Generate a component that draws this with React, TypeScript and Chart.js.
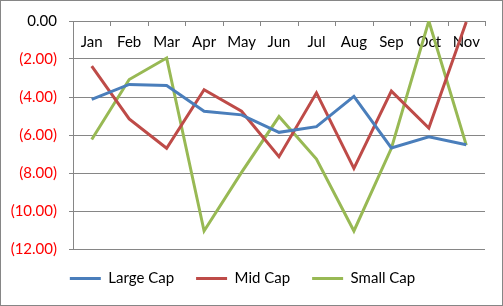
import React, { useEffect, useRef } from "react";
import { Chart, registerables } from "chart.js";

Chart.register(...registerables);

const months = ["Jan", "Feb", "Mar", "Apr", "May", "Jun", "Jul", "Aug", "Sep", "Oct", "Nov"];
const largeCap = [-4.13, -3.34, -3.4, -4.75, -4.94, -5.86, -5.56, -3.97, -6.68, -6.09, -6.51];
const midCap = [-2.37, -5.15, -6.7, -3.62, -4.75, -7.14, -3.78, -7.76, -3.69, -5.63, -0.05];
const smallCap = [-6.24, -3.08, -1.95, -11.05, -7.97, -5.03, -7.27, -11.05, -6.7, 0, -6.53];
const yTicks = [0, -2, -4, -6, -8, -10, -12];

const FONT = "Lato";
const GRID = "#868686";

const topLabels = {
  id: "topLabels",
  beforeDatasetsDraw(chart: any) {
    const xs = chart.scales.x;
    const area = chart.chartArea;
    const ctx = chart.ctx;
    const step = xs.getPixelForValue(1) - xs.getPixelForValue(0);
    ctx.save();
    ctx.strokeStyle = GRID;
    ctx.lineWidth = 1;
    for (let i = 0; i <= months.length; i++) {
      const px = Math.round(xs.getPixelForValue(i) - step / 2) + 0.5;
      ctx.beginPath();
      ctx.moveTo(px, area.top);
      ctx.lineTo(px, area.top + 5);
      ctx.stroke();
    }
    ctx.fillStyle = "#000";
    ctx.font = `15px ${FONT}`;
    ctx.textAlign = "center";
    ctx.textBaseline = "middle";
    months.forEach((m, i) => {
      ctx.fillText(m, xs.getPixelForValue(i), area.top + 21);
    });
    ctx.restore();
  },
};

export default function App() {
  const ref = useRef<HTMLCanvasElement>(null);
  useEffect(() => {
    const chart = new Chart(ref.current as HTMLCanvasElement, {
      type: "line",
      data: {
        labels: months,
        datasets: [
          { label: "Large Cap", data: largeCap, borderColor: "#4a7ebb", backgroundColor: "#4a7ebb" },
          { label: "Mid Cap", data: midCap, borderColor: "#be4b48", backgroundColor: "#be4b48" },
          { label: "Small Cap", data: smallCap, borderColor: "#98b954", backgroundColor: "#98b954" },
        ].map((d) => ({ ...d, borderWidth: 3, pointRadius: 0, tension: 0, fill: false })),
      },
      options: {
        animation: false,
        responsive: false,
        layout: { padding: { top: 19, right: 18, left: 0, bottom: 0 } },
        scales: {
          x: { display: false, offset: true },
          y: {
            min: -12,
            max: 0,
            afterFit: (s: any) => {
              s.width = 73;
            },
            afterBuildTicks: (s: any) => {
              s.ticks = yTicks.map((v) => ({ value: v }));
            },
            border: { display: true, color: GRID, width: 1 },
            grid: { color: GRID, lineWidth: 1, tickLength: 4, drawTicks: true },
            ticks: {
              padding: 12,
              font: { family: FONT, size: 15 },
              color: (c: any) => (c.tick && c.tick.value < 0 ? "#ff0000" : "#000000"),
              callback: (v: any) => (v === 0 ? "0.00" : `(${Math.abs(v).toFixed(2)})`),
            },
          },
        },
        plugins: {
          tooltip: { enabled: false },
          legend: {
            position: "bottom",
            labels: {
              boxWidth: 31,
              boxHeight: 3,
              padding: 22,
              color: "#000",
              font: { family: FONT, size: 15 },
              generateLabels: (ch: any) =>
                ch.data.datasets.map((d: any, i: number) => ({
                  text: d.label,
                  fillStyle: d.borderColor,
                  strokeStyle: d.borderColor,
                  lineWidth: 0,
                  datasetIndex: i,
                  hidden: false,
                })),
            },
          },
        },
      },
      plugins: [topLabels],
    } as any);
    return () => chart.destroy();
  }, []);

  return (
    <div
      style={{
        position: "fixed",
        left: 0,
        top: 0,
        width: 503,
        height: 306,
        overflow: "hidden",
        background: "#fff",
      }}
    >
      <canvas ref={ref} width={503} height={296} style={{ display: "block" }} />
      <div
        style={{
          position: "absolute",
          left: 0,
          top: 0,
          width: 503,
          height: 306,
          boxSizing: "border-box",
          border: `1px solid ${GRID}`,
          pointerEvents: "none",
        }}
      />
    </div>
  );
}
